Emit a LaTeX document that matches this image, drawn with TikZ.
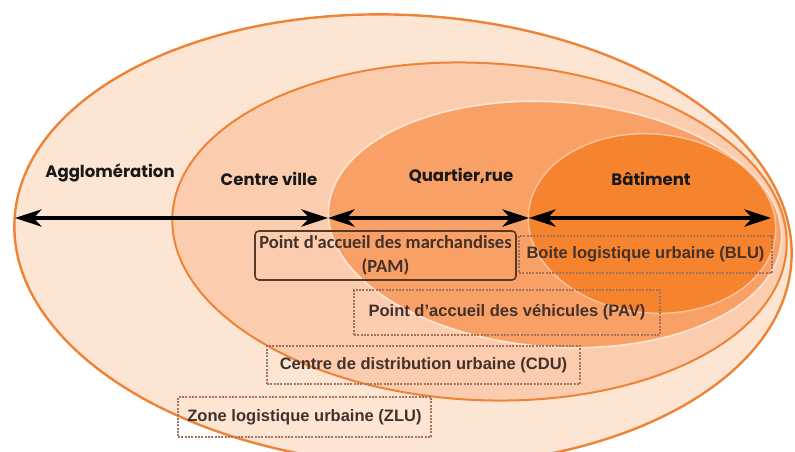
\documentclass[tikz,border=0pt]{standalone}
\usepackage{fontspec}
\setmainfont{Liberation Sans}
\newfontfamily\labelfont{Poppins}
\newfontfamily\pamfont{Carlito}
\usetikzlibrary{arrows.meta,shapes.geometric}
\definecolor{zone1}{HTML}{FDE5D3}
\definecolor{zone2}{HTML}{FBCDAE}
\definecolor{zone3}{HTML}{F9A066}
\definecolor{zone4}{HTML}{F6842E}
\definecolor{rim}{HTML}{EF8335}
\definecolor{boxline}{HTML}{A8715A}
\definecolor{boxtext}{HTML}{43312C}
\definecolor{pamline}{HTML}{5A3826}
\tikzset{
  zonelabel/.style={font=\labelfont\bfseries\fontsize{12.4}{14}\selectfont, text=black!90},
  dashbox/.style={draw=boxline, line width=0.8pt, dash pattern=on 1.6pt off 0.9pt,
    font=\bfseries\fontsize{12.4}{14}\selectfont, text=boxtext, inner sep=0pt},
  pambox/.style={draw=pamline, line width=1.2pt, rounded corners=3pt,
    font=\pamfont\bfseries\fontsize{13.9}{18}\selectfont, text=boxtext, align=center, inner sep=0pt},
  spanarrow/.style={line width=2.6pt, black, {Stealth[length=20pt,width=13pt,inset=6pt]}-{Stealth[length=20pt,width=13pt,inset=6pt]}}
}
\begin{document}
\begin{tikzpicture}[x=0.75pt,y=-0.75pt]
\useasboundingbox (0,0) rectangle (795,452);
\fill[white] (0,0) rectangle (795,452);
\begin{scope}
\clip (0,0) rectangle (795,452);
% ellipses
\draw[rim, line width=1.8pt, fill=zone1, rotate around={-3:(403,240)}] (403,240) ellipse [x radius=389, y radius=225];
\draw[rim, line width=1.5pt, fill=zone2, rotate around={-3:(479.5,231.5)}] (479.5,231.5) ellipse [x radius=307.5, y radius=168.5];
\draw[draw=zone2!50!white, line width=1.2pt, fill=zone3, rotate around={-4:(555,224.5)}] (555,224.5) ellipse [x radius=227, y radius=122.5];
\draw[draw=zone3!60!white, line width=1pt, fill=zone4, rotate around={-5:(652,223.5)}] (652,223.5) ellipse [x radius=124, y radius=89.5];
\end{scope}
% zone labels
\node[zonelabel] (lagg) at (110,173) {Agglomération};
\node[zonelabel] (lcv) at (269,179) {Centre ville};
\node[zonelabel] (lqr) at (461,176) {Quartier,rue};
\node[zonelabel] (lbat) at (651,179) {Bâtiment};
% arrow end points
\coordinate (p0) at (15,218);
\coordinate (p1) at (328,218);
\coordinate (p2) at (529,218);
\coordinate (p3) at (771,218);
\draw[spanarrow] (p0) -- (p1);
\draw[spanarrow] (p1) -- (p2);
\draw[spanarrow] (p2) -- (p3);
% boxes
\node[pambox, minimum width=261*0.75pt, minimum height=49*0.75pt] (pam) at (385.5,255.5) {Point d'accueil des marchandises\\(PAM)};
\node[dashbox, minimum width=253*0.75pt, minimum height=37*0.75pt] (blu) at (645.5,254.5) {Boite logistique urbaine (BLU)};
\node[dashbox, minimum width=306*0.75pt, minimum height=45*0.75pt] (pav) at (507,312.5) {Point d'accueil des véhicules (PAV)};
\node[dashbox, minimum width=313*0.75pt, minimum height=38*0.75pt] (cdu) at (423.5,365) {Centre de distribution urbaine (CDU)};
\node[dashbox, minimum width=253*0.75pt, minimum height=40*0.75pt] (zlu) at (304.5,417) {Zone logistique urbaine (ZLU)};
\end{tikzpicture}
\end{document}
